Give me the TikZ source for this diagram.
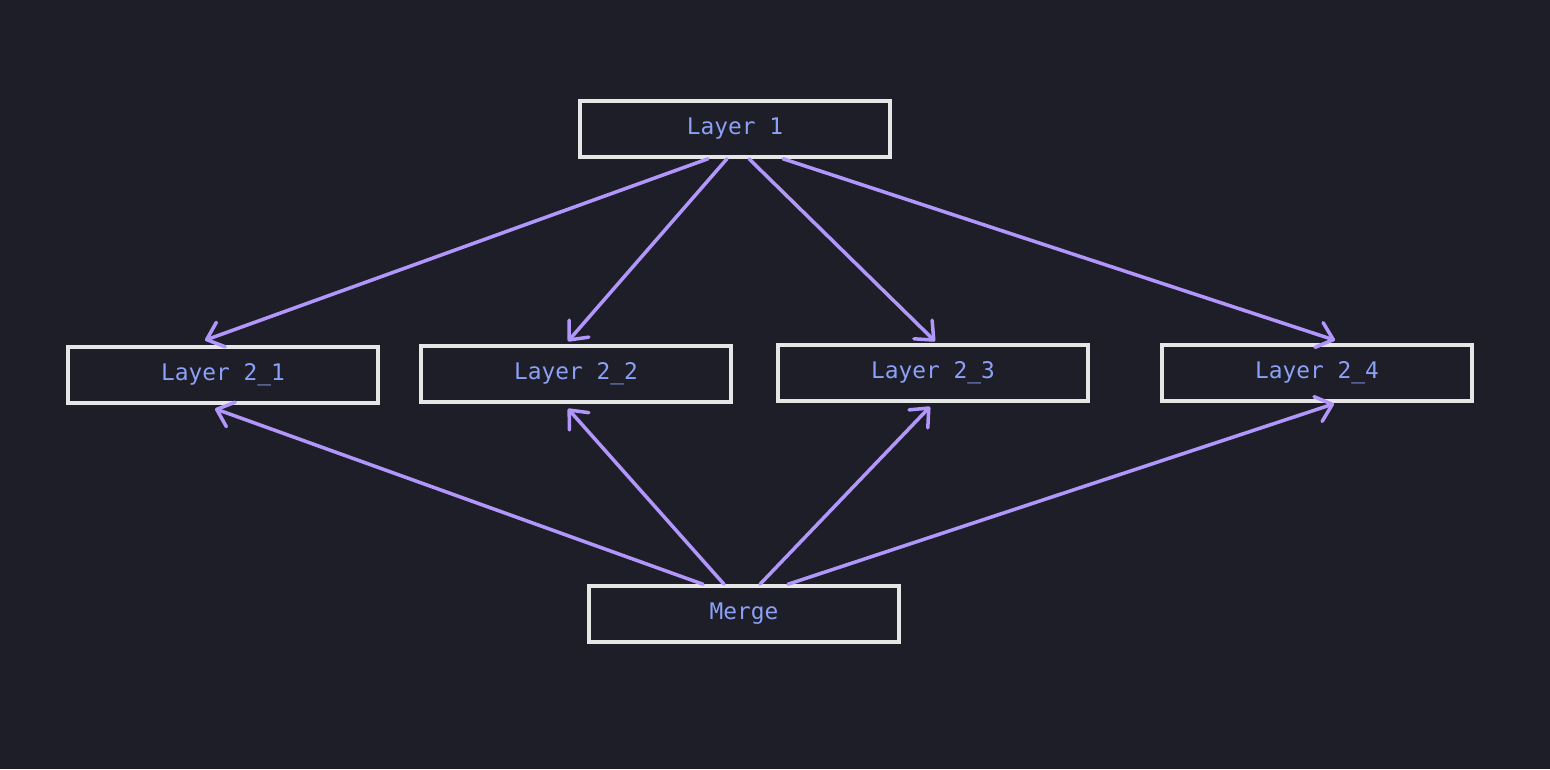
\documentclass[tikz,border=0pt]{standalone}
\usepackage{fontspec}
\setmonofont{DejaVu Sans Mono}
\usepackage{tikz}
\usetikzlibrary{arrows.meta,positioning}
\definecolor{canvas}{HTML}{1E1E28}
\definecolor{boxline}{HTML}{E6E6E6}
\definecolor{labelblue}{HTML}{8CA0F5}
\definecolor{flowpurple}{HTML}{B197FC}

\tikzset{
  layerbox/.style={draw=boxline,fill=canvas,line width=2pt,minimum width=6.2cm,minimum height=1.12cm,
    text=labelblue,font=\ttfamily\fontsize{13pt}{15pt}\selectfont},
  flow/.style={draw=flowpurple,line width=2pt,line cap=round,-{Straight Barb[length=0.3cm,width=0.52cm,line width=2pt,round]}}
}

\begin{document}
\begin{tikzpicture}
  \fill[canvas] (0,0) rectangle (31,-15.38);
  \useasboundingbox (0,0) rectangle (31,-15.38);
  % boxes
  \node[layerbox] (l1) at (14.70,-2.58) {Layer 1};
  \node[layerbox] (l21) at (4.46,-7.50) {Layer 2\_1};
  \node[layerbox] (l22) at (11.52,-7.48) {Layer 2\_2};
  \node[layerbox] (l23) at (18.66,-7.46) {Layer 2\_3};
  \node[layerbox] (l24) at (26.34,-7.46) {Layer 2\_4};
  \node[layerbox] (merge) at (14.88,-12.28) {Merge};
  % fan out
  \draw[flow] ([xshift=-0.54cm]l1.south) -- ([xshift=-0.36cm,yshift=0.1cm]l21.north);
  \draw[flow] ([xshift=-0.16cm]l1.south) -- ([xshift=-0.16cm,yshift=0.06cm]l22.north);
  \draw[flow] ([xshift=0.28cm]l1.south) -- ([xshift=0.04cm,yshift=0.04cm]l23.north);
  \draw[flow] ([xshift=0.96cm]l1.south) -- ([xshift=0.36cm,yshift=0.06cm]l24.north);
  % merge back
  \draw[flow] ([xshift=-0.82cm]merge.north) -- ([xshift=-0.16cm,yshift=-0.08cm]l21.south);
  \draw[flow] ([xshift=-0.40cm]merge.north) -- ([xshift=-0.16cm,yshift=-0.1cm]l22.south);
  \draw[flow] ([xshift=0.32cm]merge.north) -- ([xshift=-0.06cm,yshift=-0.08cm]l23.south);
  \draw[flow] ([xshift=0.88cm]merge.north) -- ([xshift=0.34cm,yshift=-0.02cm]l24.south);
\end{tikzpicture}
\end{document}
